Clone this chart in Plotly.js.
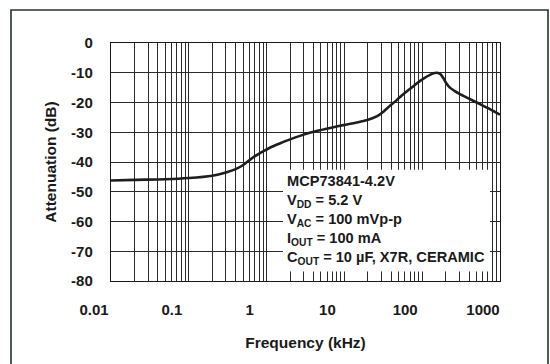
<!DOCTYPE html>
<html>
<head>
<meta charset="utf-8">
<script src="https://cdn.plot.ly/plotly-3.0.1.min.js"></script>
<style>html,body{margin:0;padding:0;background:#fff;}#chart{width:550px;height:364px;}</style>
</head>
<body>
<div id="chart"></div>
<script>
// Frequency (kHz) and attenuation (dB)
const freqKHz = [0.01, 0.02, 0.05, 0.1, 0.2, 0.3, 0.4, 0.5, 0.6, 0.7, 0.85, 1.1, 1.5, 2.0, 3.0, 4.4, 7, 9.7, 14, 19.3, 26, 32, 38.5, 47, 57, 70, 85, 105, 126, 150, 170, 186, 205, 227, 260, 306, 400, 501, 742, 1000];
const attenDB = [-46.2, -46.0, -45.8, -45.4, -44.6, -43.5, -42.4, -41.0, -39.4, -38.1, -36.8, -35.2, -33.7, -32.4, -30.8, -29.6, -28.4, -27.6, -26.8, -26.0, -24.7, -23.0, -21.1, -19.2, -17.2, -15.4, -13.6, -11.9, -10.7, -10.0, -10.4, -11.7, -13.6, -15.0, -16.1, -17.2, -18.7, -20.0, -22.2, -24.1];
const xTickVals = [0.01, 0.1, 1, 10, 100, 1000];
const xTickText = ["0.01", "0.1", "1", "10", "100", "1000"];
const yTickVals = [0, -10, -20, -30, -40, -50, -60, -70, -80];
const yTickText = ["0", "-10", "-20", "-30", "-40", "-50", "-60", "-70", "-80"];
const legendLines = ["MCP73841-4.2V", "V<sub>DD</sub> = 5.2 V", "V<sub>AC</sub> = 100 mVp-p", "I<sub>OUT</sub> = 100 mA", "C<sub>OUT</sub> = 10 µF, X7R, CERAMIC"];

const font = "Liberation Sans, Arial, sans-serif";
const gridCol = "#2b2b2b";

const W = 550, H = 364, L = 111, R = 50, T = 43, B = 82.5;
const pw = W - L - R, ph = H - T - B;
const px = v => (v - L) / pw;
const py = v => (H - B - v) / ph;

const trace = {
  x: freqKHz, y: attenDB, type: "scatter", mode: "lines",
  line: {color: "#1e1e1e", width: 2.6, shape: "spline", smoothing: 0.8},
  hoverinfo: "skip", showlegend: false
};

const layout = {
  width: W, height: H,
  margin: {l: L, r: R, t: T, b: B},
  paper_bgcolor: "#ffffff", plot_bgcolor: "#ffffff",
  font: {family: font, color: "#1a1a1a"},
  showlegend: false,
  xaxis: {
    type: "log", range: [-2, 3],
    tickvals: xTickVals, ticktext: xTickText,
    tickfont: {family: font, size: 15, color: "#1a1a1a", weight: "bold"},
    ticks: "", ticklabelstandoff: 15, ticklabelshift: -17,
    showgrid: true, gridcolor: gridCol, gridwidth: 1,
    minor: {dtick: "D1", showgrid: true, gridcolor: gridCol, gridwidth: 1, ticks: ""},
    showline: true, linecolor: "#1a1a1a", linewidth: 1.2, mirror: true,
    zeroline: false, automargin: false,
    title: {text: "Frequency (kHz)", font: {family: font, size: 15.5, color: "#1a1a1a", weight: "bold"}, standoff: 20}
  },
  yaxis: {
    range: [-80, 0],
    tickvals: yTickVals, ticktext: yTickText,
    tickfont: {family: font, size: 15, color: "#1a1a1a", weight: "bold"},
    ticks: "", ticklabelstandoff: 14,
    showgrid: true, gridcolor: gridCol, gridwidth: 1,
    showline: true, linecolor: "#1a1a1a", linewidth: 1.2, mirror: true,
    zeroline: false, automargin: false,
    title: {text: "Attenuation (dB)", font: {family: font, size: 15.5, color: "#1a1a1a", weight: "bold"}, standoff: 10}
  },
  shapes: [
    {type: "rect", xref: "paper", yref: "paper",
     x0: px(11), x1: px(548), y0: py(372), y1: py(10),
     line: {color: "#24352b", width: 1.6}, fillcolor: "rgba(0,0,0,0)", layer: "below"},
    {type: "rect", xref: "paper", yref: "paper",
     x0: px(283), x1: px(490), y0: py(272), y1: py(170),
     line: {width: 0}, fillcolor: "#ffffff", layer: "above"}
  ],
  annotations: [{
    xref: "paper", yref: "paper", x: px(285), y: py(171),
    xanchor: "left", yanchor: "top", align: "left", showarrow: false,
    text: legendLines.join("<br>"),
    font: {family: font, size: 14.6, color: "#1a1a1a", weight: "bold"}
  }]
};

Plotly.newPlot("chart", [trace], layout, {staticPlot: true, displayModeBar: false});
</script>
</body>
</html>
